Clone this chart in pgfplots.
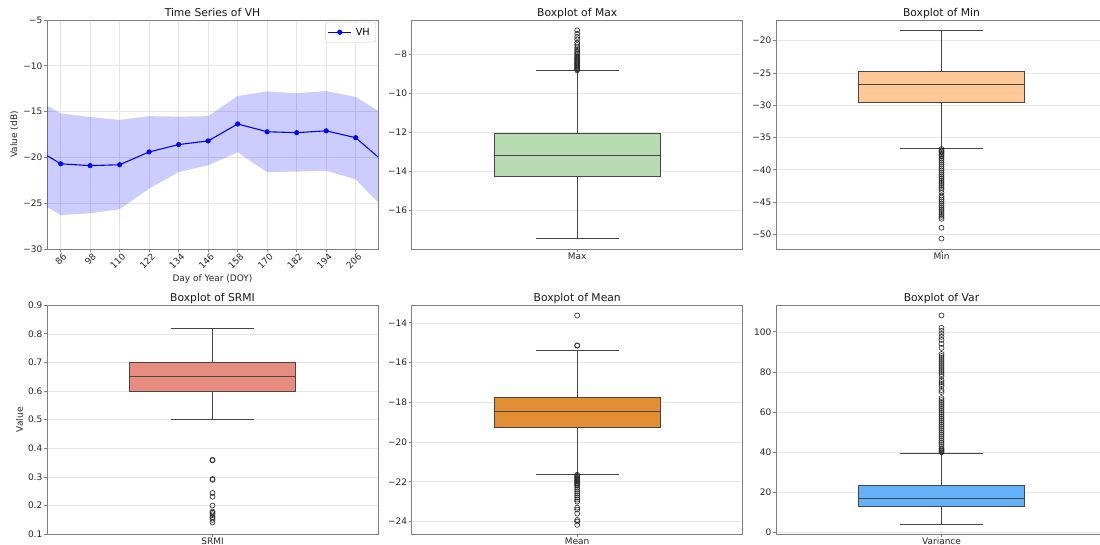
\documentclass[border=0pt]{standalone}
\usepackage{pgfplots}
\pgfplotsset{compat=1.18}
\usepackage{fontspec}
\setmainfont{DejaVu Sans}
\definecolor{maxgreen}{RGB}{184,219,180}
\definecolor{minorange}{RGB}{254,201,151}
\definecolor{srmired}{RGB}{232,139,129}
\definecolor{meanorange}{RGB}{226,143,52}
\definecolor{varblue}{RGB}{100,178,250}
\definecolor{boxline}{RGB}{70,70,70}
\pgfplotsset{
  every axis title/.style={at={(0.5,1)}, anchor=base, yshift=3.2bp, inner sep=0pt,
    font=\fontsize{10.8}{12}\selectfont, text=black!90},
  panel/.style={
    scale only axis, anchor=north west, width=331bp, height=229bp,
    axis line style={black!50, line width=0.8bp},
    tick style={black!50, line width=0.8bp},
    tick align=outside, major tick length=3bp,
    xtick pos=lower, ytick pos=left,
    tick label style={font=\fontsize{9}{10}\selectfont, text=black!85, inner sep=1.5bp},
    label style={font=\fontsize{9}{10}\selectfont, text=black!85},
    grid style={black!10, line width=0.6bp},
    ymajorgrids,
  },
  boxpanel/.style={panel, xmin=-0.5, xmax=0.5, xtick={0},
    xticklabel style={inner sep=0.6bp}},
  bx/.style={only marks, mark=o, mark size=2.5bp, mark options={draw=black!85, line width=0.6bp}},
  bl/.style={draw=boxline, line width=0.9bp},
}
% #1 colour, #2 lower whisker, #3 lower quartile, #4 median, #5 upper quartile, #6 upper whisker
\newcommand{\bxp}[6]{%
  \addplot[bl] coordinates {(0,#2) (0,#3)};
  \addplot[bl] coordinates {(0,#5) (0,#6)};
  \addplot[bl] coordinates {(-0.125,#2) (0.125,#2)};
  \addplot[bl] coordinates {(-0.125,#6) (0.125,#6)};
  \addplot[bl, fill=#1] coordinates {(-0.25,#3) (0.25,#3) (0.25,#5) (-0.25,#5)} -- cycle;
  \addplot[bl] coordinates {(-0.25,#4) (0.25,#4)};
}
\begin{document}
\begin{tikzpicture}
\useasboundingbox (0,0) rectangle (1100bp,545bp);

% Panel 1: time series
\begin{axis}[panel, at={(47bp,525bp)},
  xmin=80.44, xmax=215.08, ymin=-30, ymax=-5,
  xtick={86,98,110,122,134,146,158,170,182,194,206},
  xticklabels={86,98,110,122,134,146,158,170,182,194,206},
  ytick={-30,-25,-20,-15,-10,-5},
  yticklabels={−30,−25,−20,−15,−10,−5},
  xmajorgrids,
  xticklabel style={rotate=45, anchor=north east, xshift=2.5bp},
  xlabel={Day of Year (DOY)}, ylabel={Value (dB)},
  title={Time Series of VH},
  legend style={at={(0.994,0.99)}, anchor=north east, draw=black!18, rounded corners=2bp,
    font=\fontsize{9.8}{11}\selectfont, inner xsep=2bp, inner ysep=3bp,
    nodes={inner xsep=4bp, inner ysep=2.5bp}},
  legend image code/.code={\draw[mark repeat=2,mark phase=2,#1] plot coordinates {(0bp,0bp) (11.5bp,0bp) (23bp,0bp)};},
]
\addplot[fill=blue, fill opacity=0.2, draw=none, forget plot] coordinates {
 (74,-13.36) (86,-15.2) (98,-15.6) (110,-15.9) (122,-15.5) (134,-15.55) (146,-15.5)
 (158,-13.3) (170,-12.8) (182,-13.0) (194,-12.75) (206,-13.4) (218,-15.38)
 (218,-25.7) (206,-22.4) (194,-21.45) (182,-21.55) (170,-21.6) (158,-19.45)
 (146,-20.85) (134,-21.6) (122,-23.4) (110,-25.65) (98,-26.1) (86,-26.3) (74,-24.36)
} -- cycle;
\addplot[blue, line width=1.1bp, mark=*, mark size=2bp] coordinates {
 (74,-18.76) (86,-20.7) (98,-20.9) (110,-20.8) (122,-19.4) (134,-18.6) (146,-18.2)
 (158,-16.35) (170,-17.2) (182,-17.3) (194,-17.1) (206,-17.85) (218,-20.63)
};
\addlegendentry{VH}
\end{axis}

% Panel 2: Max
\begin{axis}[boxpanel, at={(411.7bp,525bp)},
  ymin=-17.985, ymax=-6.215, xticklabels={Max},
  ytick={-16,-14,-12,-10,-8}, yticklabels={−16,−14,−12,−10,−8},
  title={Boxplot of Max}]
\bxp{maxgreen}{-17.45}{-14.24}{-13.18}{-12.05}{-8.82}
\addplot[bx] coordinates {
 (0,-6.75) (0,-6.92) (0,-7.08) (0,-7.22) (0,-7.38) (0,-7.5) (0,-7.62) (0,-7.72)
 (0,-7.8) (0,-7.88) (0,-7.95) (0,-8.02) (0,-8.1) (0,-8.15) (0,-8.2) (0,-8.25)
 (0,-8.3) (0,-8.35) (0,-8.4) (0,-8.45) (0,-8.5) (0,-8.55) (0,-8.6) (0,-8.65)
 (0,-8.7) (0,-8.75) (0,-8.8)
};
\end{axis}

% Panel 3: Min
\begin{axis}[boxpanel, at={(776bp,525bp)},
  ymin=-52.28, ymax=-16.79, xticklabels={Min},
  ytick={-50,-45,-40,-35,-30,-25,-20}, yticklabels={−50,−45,−40,−35,−30,−25,−20},
  title={Boxplot of Min}]
\bxp{minorange}{-36.7}{-29.54}{-26.75}{-24.74}{-18.4}
\addplot[bx] coordinates {
 (0,-36.8) (0,-37.0) (0,-37.2) (0,-37.4) (0,-37.6) (0,-37.8) (0,-38.0) (0,-38.3)
 (0,-38.6) (0,-38.9) (0,-39.2) (0,-39.5) (0,-39.8) (0,-40.1) (0,-40.4) (0,-40.7)
 (0,-41.0) (0,-41.3) (0,-41.6) (0,-41.9) (0,-42.2) (0,-42.5) (0,-42.8) (0,-43.1)
 (0,-43.5) (0,-44.0) (0,-44.3) (0,-44.6) (0,-44.9) (0,-45.2) (0,-45.5) (0,-45.8)
 (0,-46.1) (0,-46.4) (0,-46.7) (0,-47.0) (0,-47.3) (0,-47.6) (0,-49.0) (0,-50.67)
};
\end{axis}

% Panel 4: SRMI
\begin{axis}[boxpanel, at={(47bp,239.8bp)},
  ymin=0.1, ymax=0.9, xticklabels={SRMI},
  ytick={0.1,0.2,0.3,0.4,0.5,0.6,0.7,0.8,0.9},
  yticklabels={0.1,0.2,0.3,0.4,0.5,0.6,0.7,0.8,0.9},
  ylabel={Value},
  title={Boxplot of SRMI}]
\bxp{srmired}{0.5}{0.598}{0.65}{0.7}{0.82}
\addplot[bx] coordinates {
 (0,0.358) (0,0.36) (0,0.293) (0,0.29) (0,0.244) (0,0.231) (0,0.2) (0,0.179)
 (0,0.175) (0,0.17) (0,0.16) (0,0.158) (0,0.15) (0,0.141)
};
\end{axis}

% Panel 5: Mean
\begin{axis}[boxpanel, at={(411.7bp,239.8bp)},
  ymin=-24.64, ymax=-13.11, xticklabels={Mean},
  ytick={-24,-22,-20,-18,-16,-14}, yticklabels={−24,−22,−20,−18,−16,−14},
  title={Boxplot of Mean}]
\bxp{meanorange}{-21.61}{-19.28}{-18.44}{-17.73}{-15.41}
\addplot[bx] coordinates {
 (0,-13.63) (0,-15.13) (0,-15.15)
 (0,-21.65) (0,-21.7) (0,-21.75) (0,-21.8) (0,-21.85) (0,-21.9) (0,-21.95) (0,-22.0)
 (0,-22.05) (0,-22.1) (0,-22.15) (0,-22.2) (0,-22.3) (0,-22.4) (0,-22.5) (0,-22.6)
 (0,-22.7) (0,-22.8) (0,-22.9) (0,-23.0) (0,-23.3) (0,-23.4) (0,-23.6) (0,-23.92)
 (0,-24.0) (0,-24.17)
};
\end{axis}

% Panel 6: Var
\begin{axis}[boxpanel, at={(776bp,239.8bp)},
  ymin=-0.83, ymax=113.3, xticklabels={Variance},
  ytick={0,20,40,60,80,100}, yticklabels={0,20,40,60,80,100},
  title={Boxplot of Var}]
\bxp{varblue}{4.16}{13.0}{17.1}{23.6}{39.6}
\addplot[bx] coordinates {
 (0,40) (0,40.5) (0,41) (0,41.5) (0,42) (0,43) (0,44) (0,45) (0,46) (0,47) (0,48)
 (0,49) (0,50) (0,51) (0,52) (0,53) (0,54) (0,55) (0,56) (0,57) (0,58) (0,59)
 (0,60) (0,61) (0,62) (0,63) (0,64) (0,65) (0,66) (0,67) (0,70) (0,71) (0,73)
 (0,74) (0,75) (0,76) (0,78) (0,79) (0,80) (0,81) (0,82) (0,83) (0,84) (0,85)
 (0,86) (0,87) (0,88) (0,89) (0,92) (0,94) (0,96) (0,97.5) (0,99) (0,100.5)
 (0,102) (0,108.2)
};
\end{axis}
\end{tikzpicture}
\end{document}
